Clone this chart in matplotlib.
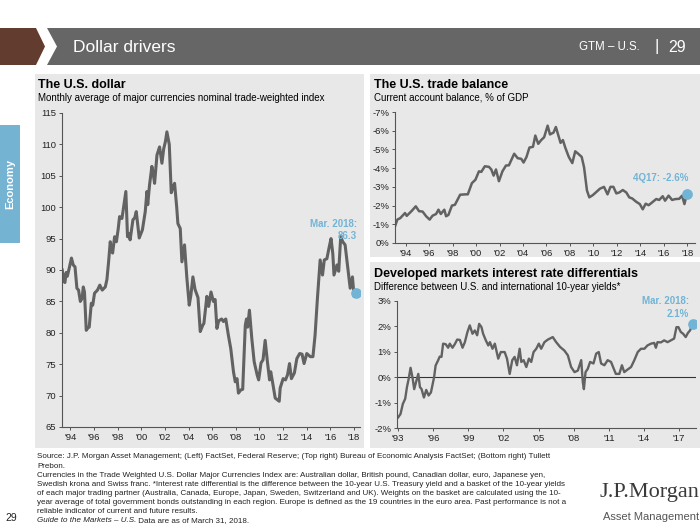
import matplotlib
matplotlib.use('Agg')
import matplotlib.pyplot as plt
from matplotlib.patches import Rectangle, Polygon

plt.rcParams['font.family'] = ['Liberation Sans', 'DejaVu Sans']

# --- data ---
dollar_dates = [1993.32, 1993.45, 1993.55, 1993.65, 1993.75, 1993.9, 1994.1, 1994.25, 1994.4, 1994.56,
                1994.7, 1994.85, 1995.0, 1995.1, 1995.2, 1995.35, 1995.5, 1995.6, 1995.78, 1995.9,
                1996.05, 1996.3, 1996.5, 1996.7, 1996.96, 1997.1, 1997.24, 1997.38, 1997.5, 1997.58,
                1997.75, 1997.9, 1998.05, 1998.17, 1998.37, 1998.55, 1998.7, 1998.84, 1998.95, 1999.06,
                1999.3, 1999.45, 1999.58, 1999.83, 2000.1, 2000.34, 2000.48, 2000.55, 2000.7, 2000.9,
                2001.0, 2001.13, 2001.33, 2001.55, 2001.75, 2001.9, 2002.05, 2002.17, 2002.37, 2002.54,
                2002.65, 2002.82, 2003.0, 2003.1, 2003.3, 2003.44, 2003.66, 2003.86, 2004.06, 2004.2,
                2004.37, 2004.55, 2004.8, 2004.99, 2005.2, 2005.3, 2005.55, 2005.7, 2005.9, 2006.1,
                2006.25, 2006.4, 2006.55, 2006.8, 2006.95, 2007.15, 2007.37, 2007.57, 2007.8, 2007.95,
                2008.1, 2008.22, 2008.42, 2008.58, 2008.8, 2008.9, 2009.0, 2009.15, 2009.35, 2009.55,
                2009.8, 2009.93, 2010.13, 2010.3, 2010.48, 2010.67, 2010.85, 2010.95, 2011.1, 2011.33,
                2011.53, 2011.67, 2011.75, 2012.0, 2012.2, 2012.37, 2012.54, 2012.7, 2012.95, 2013.16,
                2013.4, 2013.6, 2013.77, 2014.0, 2014.3, 2014.52, 2014.7, 2014.9, 2015.13, 2015.33,
                2015.48, 2015.7, 2015.9, 2016.05, 2016.2, 2016.3, 2016.55, 2016.7, 2016.87, 2017.04,
                2017.24, 2017.44, 2017.67, 2017.86, 2018.0, 2018.17]
dollar_values = [90.0, 88.2, 88.0, 89.6, 89.0, 90.2, 91.9, 90.8, 90.5, 87.1,
                 86.8, 85.0, 85.5, 87.3, 86.5, 80.4, 80.8, 80.9, 84.7, 84.4,
                 86.3, 86.8, 87.6, 86.8, 87.3, 88.5, 91.3, 94.5, 93.0, 92.7,
                 95.3, 94.5, 96.5, 98.5, 98.2, 100.5, 102.5, 95.3, 95.8, 94.8,
                 98.0, 98.3, 99.3, 95.1, 96.4, 99.3, 102.5, 100.4, 103.5, 106.5,
                 105.5, 103.8, 108.3, 109.6, 107.0, 109.3, 110.5, 112.0, 110.0, 102.3,
                 103.0, 103.8, 100.0, 97.4, 96.6, 91.3, 94.0, 88.7, 84.4, 86.0,
                 88.9, 86.9, 85.6, 80.2, 81.2, 81.5, 85.8, 84.2, 86.5, 85.0,
                 85.3, 80.7, 81.9, 82.2, 81.8, 82.2, 79.6, 77.5, 73.8, 72.2,
                 72.7, 70.4, 70.9, 71.0, 81.2, 82.2, 80.9, 83.6, 79.1, 75.4,
                 73.3, 72.5, 75.2, 75.7, 78.8, 75.4, 72.5, 73.8, 72.2, 69.6,
                 69.3, 69.1, 71.2, 72.7, 72.5, 73.3, 75.1, 72.7, 73.6, 75.9,
                 76.7, 76.6, 75.1, 76.7, 76.2, 76.2, 79.6, 85.5, 91.6, 89.2,
                 91.6, 91.8, 93.7, 95.0, 92.6, 89.2, 90.8, 89.8, 95.3, 94.5,
                 94.0, 90.8, 87.1, 88.9, 85.8, 86.3]

trade_dates = [1993.1, 1993.3, 1993.55, 1993.95, 1994.1, 1994.5, 1994.87, 1995.15, 1995.45, 1995.75,
               1996.05, 1996.3, 1996.6, 1996.8, 1997.0, 1997.3, 1997.45, 1997.65, 1997.95, 1998.2,
               1998.65, 1999.1, 1999.3, 1999.65, 1999.95, 2000.25, 2000.45, 2000.75, 2001.1, 2001.3,
               2001.5, 2001.7, 2001.95, 2002.25, 2002.55, 2002.8, 2003.25, 2003.55, 2003.85, 2004.05,
               2004.3, 2004.55, 2004.85, 2005.05, 2005.3, 2005.55, 2005.8, 2006.1, 2006.3, 2006.6,
               2006.8, 2007.2, 2007.4, 2007.6, 2007.9, 2008.2, 2008.45, 2008.7, 2009.0, 2009.2,
               2009.45, 2009.65, 2009.95, 2010.2, 2010.55, 2010.9, 2011.2, 2011.45, 2011.7, 2011.95,
               2012.2, 2012.5, 2012.8, 2013.05, 2013.3, 2013.65, 2013.95, 2014.2, 2014.45, 2014.7,
               2015.0, 2015.35, 2015.6, 2015.9, 2016.1, 2016.4, 2016.7, 2017.0, 2017.3, 2017.55,
               2017.75, 2017.95]
trade_values = [-0.89, -1.25, -1.33, -1.6, -1.45, -1.7, -1.96, -1.7, -1.68, -1.43,
                -1.25, -1.46, -1.55, -1.78, -1.55, -1.78, -1.43, -1.5, -2.0, -2.04,
                -2.58, -2.6, -2.6, -3.2, -3.38, -3.83, -3.8, -4.1, -4.07, -3.93,
                -3.6, -3.93, -3.3, -3.83, -4.14, -4.15, -4.77, -4.53, -4.5, -4.3,
                -4.6, -5.1, -5.14, -5.74, -5.3, -5.5, -5.65, -6.27, -5.8, -5.9,
                -6.2, -5.35, -5.5, -5.1, -4.6, -4.27, -4.9, -4.77, -4.6, -4.05,
                -2.8, -2.44, -2.56, -2.7, -2.9, -3.0, -2.6, -3.0, -3.0, -2.65,
                -2.7, -2.83, -2.7, -2.44, -2.38, -2.2, -2.08, -1.8, -2.1, -2.02,
                -2.17, -2.35, -2.3, -2.5, -2.26, -2.53, -2.3, -2.35, -2.36, -2.53,
                -2.08, -2.6]

rate_dates = [1993.0, 1993.2, 1993.4, 1993.6, 1993.75, 1993.9, 1994.06, 1994.23, 1994.37, 1994.5,
              1994.72, 1994.86, 1995.0, 1995.2, 1995.4, 1995.6, 1995.8, 1996.07, 1996.2, 1996.4,
              1996.55, 1996.7, 1996.84, 1997.06, 1997.27, 1997.41, 1997.64, 1997.84, 1998.04, 1998.27,
              1998.5, 1998.7, 1998.92, 1999.12, 1999.35, 1999.55, 1999.75, 1999.92, 2000.12, 2000.26,
              2000.49, 2000.7, 2000.84, 2001.06, 2001.26, 2001.55, 2001.77, 2002.1, 2002.3, 2002.53,
              2002.75, 2002.95, 2003.15, 2003.38, 2003.52, 2003.72, 2003.95, 2004.17, 2004.37, 2004.57,
              2004.8, 2005.02, 2005.22, 2005.5, 2005.79, 2006.21, 2006.5, 2006.84, 2007.2, 2007.5,
              2007.78, 2008.07, 2008.35, 2008.64, 2008.78, 2008.87, 2009.01, 2009.2, 2009.4, 2009.69,
              2009.92, 2010.14, 2010.34, 2010.62, 2010.9, 2011.19, 2011.39, 2011.6, 2011.9, 2012.12,
              2012.32, 2012.6, 2012.9, 2013.18, 2013.47, 2013.75, 2014.04, 2014.3, 2014.6, 2014.88,
              2015.02, 2015.16, 2015.45, 2015.73, 2016.02, 2016.3, 2016.58, 2016.78, 2016.95, 2017.15,
              2017.35, 2017.57, 2017.77, 2017.94, 2018.17]
rate_values = [-1.58, -1.45, -1.05, -0.85, -0.39, -0.06, 0.37, -0.03, -0.47, -0.24,
               0.13, -0.39, -0.47, -0.8, -0.5, -0.72, -0.6, 0.0, 0.46, 0.65,
               0.81, 0.8, 1.32, 1.3, 1.16, 1.32, 1.16, 1.3, 1.48, 1.47,
               1.16, 1.38, 1.78, 2.04, 1.71, 1.84, 1.65, 2.1, 1.97, 1.71,
               1.45, 1.25, 1.38, 1.12, 1.32, 0.73, 0.99, 0.99, 0.73, 0.13,
               0.67, 0.8, 0.47, 1.12, 0.6, 0.67, 0.4, 0.73, 0.6, 0.99,
               1.12, 1.32, 1.12, 1.38, 1.48, 1.58, 1.38, 1.19, 1.05, 0.86,
               0.4, 0.2, 0.26, 0.67, -0.2, -0.47, 0.2, 0.33, 0.6, 0.54,
               0.93, 0.99, 0.54, 0.47, 0.67, 0.6, 0.37, 0.13, 0.13, 0.47,
               0.2, 0.3, 0.4, 0.67, 0.99, 1.12, 1.12, 1.25, 1.32, 1.35,
               1.16, 1.38, 1.37, 1.45, 1.38, 1.45, 1.52, 1.97, 1.97, 1.78,
               1.71, 1.58, 1.75, 1.84, 2.1]

dollar_years = list(range(1994, 2019, 2))
dollar_labels = ["'94", "'96", "'98", "'00", "'02", "'04", "'06", "'08", "'10", "'12", "'14", "'16", "'18"]
dollar_yticks = [65, 70, 75, 80, 85, 90, 95, 100, 105, 110, 115]
trade_years = dollar_years
trade_labels = dollar_labels
trade_yticks = [0, -1, -2, -3, -4, -5, -6, -7]
trade_ylabels = ['0%', '-1%', '-2%', '-3%', '-4%', '-5%', '-6%', '-7%']
rate_years = list(range(1993, 2018, 3))
rate_labels = ["'93", "'96", "'99", "'02", "'05", "'08", "'11", "'14", "'17"]
rate_yticks = [-2, -1, 0, 1, 2, 3]
rate_ylabels = ['-2%', '-1%', '0%', '1%', '2%', '3%']

footer_lines = [
    "Source: J.P. Morgan Asset Management; (Left) FactSet, Federal Reserve; (Top right) Bureau of Economic Analysis FactSet; (Bottom right) Tullett",
    "Prebon.",
    "Currencies in the Trade Weighted U.S. Dollar Major Currencies Index are: Australian dollar, British pound, Canadian dollar, euro, Japanese yen,",
    "Swedish krona and Swiss franc. *Interest rate differential is the difference between the 10-year U.S. Treasury yield and a basket of the 10-year yields",
    "of each major trading partner (Australia, Canada, Europe, Japan, Sweden, Switzerland and UK). Weights on the basket are calculated using the 10-",
    "year average of total government bonds outstanding in each region. Europe is defined as the 19 countries in the euro area. Past performance is not a",
    "reliable indicator of current and future results.",
]

LINE = '#626262'
BLUE = '#72b4d6'
PANEL = '#e8e8e8'
W, H = 700, 525

fig = plt.figure(figsize=(7, 5.25), dpi=100)

# background layer in pixel coordinates
bg = fig.add_axes([0, 0, 1, 1])
bg.set_xlim(0, W)
bg.set_ylim(H, 0)
bg.axis('off')

# header bar
bg.add_patch(Polygon([[0, 28], [36, 28], [45, 46.5], [36, 65], [0, 65]], closed=True, color='#623c2e', lw=0))
bg.add_patch(Polygon([[47, 28], [700, 28], [700, 65], [47, 65], [57, 46.5]], closed=True, color='#666666', lw=0))
bg.text(73, 47, 'Dollar drivers', color='white', fontsize=12.5, va='center')
bg.text(640, 47, 'GTM \u2013 U.S.', color='white', fontsize=8.3, va='center', ha='right')
bg.text(657, 46, '|', color='white', fontsize=12, va='center', ha='center')
bg.text(668, 47, '29', color='white', fontsize=11.5, va='center')

# side tab
bg.add_patch(Rectangle((0, 125), 20, 118, color='#75b3d3', lw=0))
bg.text(10, 184, 'Economy', color='white', fontsize=8, fontweight='bold', rotation=90,
        ha='center', va='center')

# panels
bg.add_patch(Rectangle((35, 74), 329, 374, color=PANEL, lw=0))
bg.add_patch(Rectangle((370, 74), 330, 183, color=PANEL, lw=0))
bg.add_patch(Rectangle((370, 262), 330, 186, color=PANEL, lw=0))

# titles
bg.text(38, 85, 'The U.S. dollar', fontsize=9, fontweight='bold', va='center')
bg.text(38, 98, 'Monthly average of major currencies nominal trade-weighted index', fontsize=7, va='center')
bg.text(374, 85, 'The U.S. trade balance', fontsize=9, fontweight='bold', va='center')
bg.text(374, 98, 'Current account balance, % of GDP', fontsize=7, va='center')
bg.text(374, 274, 'Developed markets interest rate differentials', fontsize=9, fontweight='bold', va='center')
bg.text(374, 287, 'Difference between U.S. and international 10-year yields*', fontsize=7, va='center')

# footer
FS = 5.75
for i, line in enumerate(footer_lines):
    bg.text(37, 457 + i * 9.1, line, fontsize=FS, va='center', color='#222222')
t_it = bg.text(37, 457 + 7 * 9.1, 'Guide to the Markets \u2013 U.S.', fontsize=FS, va='center',
               style='italic', color='#222222')
bg.annotate(' Data are as of March 31, 2018.', xy=(1, 0.5), xycoords=t_it, va='center',
            fontsize=FS, color='#222222')
bg.text(5, 518, '29', fontsize=7.5, va='center', color='#222222')
bg.text(699, 493, 'J.P.Morgan', fontsize=16, va='center', ha='right', color='#3a3a3a',
        family=['Liberation Serif', 'DejaVu Serif'])
bg.text(699, 517, 'Asset Management', fontsize=8, va='center', ha='right', color='#555555')


def px_axes(x0, y0, x1, y1):
    ax = fig.add_axes([x0 / W, 1 - y1 / H, (x1 - x0) / W, (y1 - y0) / H])
    ax.set_facecolor('none')
    for s in ['top', 'right']:
        ax.spines[s].set_visible(False)
    for s in ['left', 'bottom']:
        ax.spines[s].set_color('#555555')
        ax.spines[s].set_linewidth(0.8)
    ax.tick_params(axis='both', direction='out', length=2.5, width=0.7, color='#555555',
                   labelsize=6.8, pad=1.5, labelcolor='#222222')
    return ax


# left: dollar
ax1 = px_axes(62, 113, 360, 427)
ax1.plot(dollar_dates, dollar_values, color=LINE, lw=2.2, solid_joinstyle='round')
ax1.scatter([dollar_dates[-1]], [dollar_values[-1]], s=45, color=BLUE, zorder=5)
ax1.set_xlim(1993.3, 2018.5)
ax1.set_ylim(65, 115)
ax1.set_xticks(dollar_years)
ax1.set_xticklabels(dollar_labels)
ax1.set_yticks(dollar_yticks)
ax1.text(2018.25, 96.4, 'Mar. 2018:\n86.3', color=BLUE, fontsize=7, fontweight='bold',
         ha='right', va='center', linespacing=1.3)

# top right: trade balance
ax2 = px_axes(395, 112, 695, 243)
ax2.plot(trade_dates, trade_values, color=LINE, lw=1.8, solid_joinstyle='round')
ax2.scatter([trade_dates[-1]], [trade_values[-1]], s=45, color=BLUE, zorder=5)
ax2.set_xlim(1993.1, 2018.65)
ax2.set_ylim(0, -7)
ax2.set_xticks(trade_years)
ax2.set_xticklabels(trade_labels)
ax2.set_yticks(trade_yticks)
ax2.set_yticklabels(trade_ylabels)
ax2.text(2018.05, -3.45, '4Q17: -2.6%', color=BLUE, fontsize=7, fontweight='bold', ha='right', va='center')

# bottom right: interest rate differentials
ax3 = px_axes(397, 301, 696, 428)
ax3.axhline(0, color='#333333', lw=0.8)
ax3.plot(rate_dates, rate_values, color=LINE, lw=1.7, solid_joinstyle='round')
ax3.scatter([rate_dates[-1]], [rate_values[-1]], s=45, color=BLUE, zorder=5)
ax3.set_xlim(1992.9, 2018.45)
ax3.set_ylim(-2, 3)
ax3.set_xticks(rate_years)
ax3.set_xticklabels(rate_labels)
ax3.set_yticks(rate_yticks)
ax3.set_yticklabels(rate_ylabels)
ax3.text(2017.85, 2.75, 'Mar. 2018:\n2.1%', color=BLUE, fontsize=7, fontweight='bold',
         ha='right', va='center', linespacing=1.3)

fig.savefig('out.png', dpi=100)
